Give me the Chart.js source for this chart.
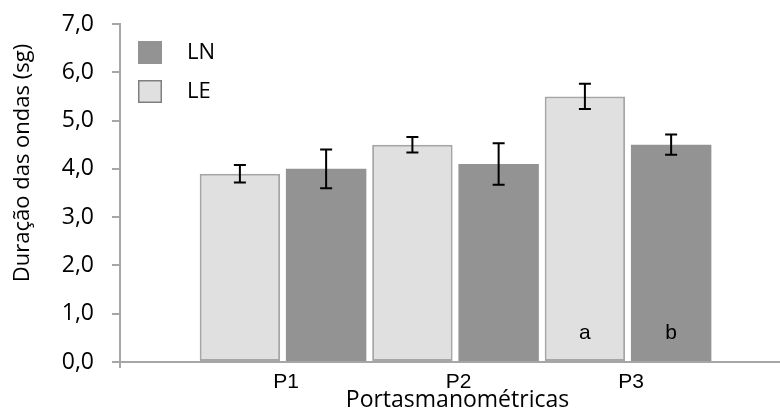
<!DOCTYPE html>
<html>
<head>
<meta charset="utf-8">
<script src="https://cdn.jsdelivr.net/npm/chart.js@4.4.1/dist/chart.umd.min.js"></script>
<style>
  html, body { margin: 0; padding: 0; background: #fff; overflow: hidden; }
  #wrap { width: 780px; height: 412px; position: relative; overflow: hidden; }
</style>
</head>
<body>
<div id="wrap"><canvas id="c" width="795" height="412"></canvas></div>
<script>
// Wave duration per manometric port, two groups with standard errors
const categories = ['P1', 'P2', 'P3'];
const seriesNames = ['LE', 'LN'];
const valuesLE = [3.9, 4.5, 5.5];
const valuesLN = [4.0, 4.1, 4.5];
const errorsLE = [0.18, 0.16, 0.26];
const errorsLN = [0.40, 0.43, 0.21];
const lettersLE = ['', '', 'a'];
const lettersLN = ['', '', 'b'];
const yTickValues = [0, 1, 2, 3, 4, 5, 6, 7];
const yTitle = 'Duração das ondas (sg)';
const xTitle = 'Portasmanométricas';

const AXIS = '#a6a6a6';
const LIGHT = '#e0e0e0';
const DARK = '#939393';
const SANS = "'Open Sans', sans-serif";
const ARIAL = "'Liberation Sans', Arial, sans-serif";

function points(values) {
  return categories.map((c, i) => ({ x: i + 1, y: values[i] }));
}

// error bars, letters, inset legend and rotated y title
const extras = {
  id: 'extras',
  afterDatasetsDraw(chart) {
    const ctx = chart.ctx;
    const ys = chart.scales.y;
    const area = chart.chartArea;
    chart.data.datasets.forEach((ds, di) => {
      const meta = chart.getDatasetMeta(di);
      meta.data.forEach((bar, i) => {
        const v = ds.data[i].y, e = ds.errors[i];
        const top = ys.getPixelForValue(v + e);
        const bot = ys.getPixelForValue(v - e);
        ctx.save();
        ctx.strokeStyle = '#000';
        ctx.lineWidth = 2;
        ctx.beginPath();
        ctx.moveTo(bar.x, top); ctx.lineTo(bar.x, bot);
        ctx.moveTo(bar.x - 6, top); ctx.lineTo(bar.x + 6, top);
        ctx.moveTo(bar.x - 6, bot); ctx.lineTo(bar.x + 6, bot);
        ctx.stroke();
        if (ds.letters[i]) {
          ctx.fillStyle = '#000';
          ctx.font = '21px ' + ARIAL;
          ctx.textAlign = 'center';
          ctx.textBaseline = 'middle';
          ctx.fillText(ds.letters[i], bar.x, ys.getPixelForValue(0.6));
        }
        ctx.restore();
      });
    });

    // legend, listed in reverse dataset order
    ctx.save();
    const items = chart.data.datasets.slice().reverse();
    items.forEach((ds, k) => {
      const bx = area.left + 18, by = area.top + 17 + k * 39;
      ctx.fillStyle = ds.backgroundColor;
      ctx.fillRect(bx, by, 24, 23);
      if (ds.borderWidth) {
        ctx.strokeStyle = '#7f7f7f';
        ctx.lineWidth = 1.5;
        ctx.strokeRect(bx + 0.75, by + 0.75, 22.5, 21.5);
      }
      ctx.fillStyle = '#000';
      ctx.font = '22px ' + SANS;
      ctx.textAlign = 'left';
      ctx.textBaseline = 'middle';
      ctx.fillText(ds.label, bx + 49, by + 12);
    });

    // y axis title
    ctx.translate(23, 163);
    ctx.rotate(-Math.PI / 2);
    ctx.fillStyle = '#000';
    ctx.font = '22px ' + SANS;
    ctx.textAlign = 'center';
    ctx.textBaseline = 'middle';
    ctx.fillText(yTitle, 0, 0);
    ctx.restore();
  }
};

new Chart(document.getElementById('c'), {
  type: 'bar',
  data: {
    datasets: [
      {
        label: seriesNames[0], data: points(valuesLE), errors: errorsLE, letters: lettersLE,
        backgroundColor: LIGHT, borderColor: AXIS, borderWidth: 2, borderSkipped: false
      },
      {
        label: seriesNames[1], data: points(valuesLN), errors: errorsLN, letters: lettersLN,
        backgroundColor: DARK, borderWidth: 0
      }
    ]
  },
  options: {
    responsive: false,
    animation: false,
    events: [],
    layout: { padding: { top: 24, left: 0, right: 0, bottom: 0 } },
    // the origin tick sits closer to P1 than the category step, so the slot is widened to match
    datasets: { bar: { categoryPercentage: 1.058, barPercentage: 0.933 } },
    plugins: { legend: { display: false }, tooltip: { enabled: false } },
    scales: {
      x: {
        type: 'linear',
        min: 0.055,
        max: 3.968,
        offset: false,
        afterBuildTicks: s => { s.ticks = [s.min, 1, 2, 3].map(v => ({ value: v })); },
        afterFit: s => { s.height = 50; },
        ticks: {
          autoSkip: false, maxRotation: 0, labelOffset: 3, padding: 2,
          color: '#000', font: { family: ARIAL, size: 21 },
          callback: v => categories[Math.round(v) - 1] || ''
        },
        grid: {
          offset: false, drawOnChartArea: false, drawTicks: true, tickLength: 6, lineWidth: 2,
          color: c => c.index === 0 ? AXIS : 'rgba(0,0,0,0)'
        },
        border: { color: AXIS, width: 2 },
        title: {
          display: true, text: xTitle, color: '#000',
          font: { family: SANS, size: 23, lineHeight: 1 }, padding: { top: 0, bottom: 0 }
        }
      },
      y: {
        min: 0,
        max: 7,
        afterBuildTicks: s => { s.ticks = yTickValues.map(v => ({ value: v })); },
        afterFit: s => { s.width = 120; s.paddingTop = 0; s.paddingBottom = 0; },
        ticks: {
          padding: 18, color: '#000', font: { family: SANS, size: 23 },
          callback: v => v.toFixed(1).replace('.', ',')
        },
        grid: { drawOnChartArea: false, tickLength: 8, lineWidth: 2, color: AXIS },
        border: { color: AXIS, width: 2 }
      }
    }
  },
  plugins: [extras]
});
</script>
</body>
</html>
